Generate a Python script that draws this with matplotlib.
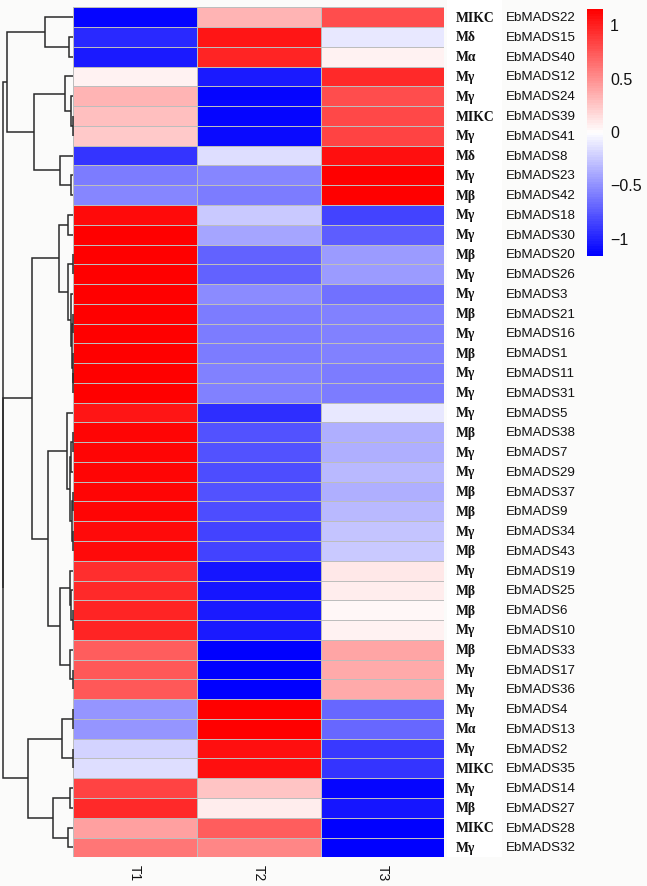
import matplotlib
matplotlib.use("Agg")
import matplotlib.pyplot as plt
import numpy as np
from matplotlib.colors import LinearSegmentedColormap, BoundaryNorm
from matplotlib.transforms import blended_transform_factory

# ---------------- data ----------------
genes = ["EbMADS22", "EbMADS15", "EbMADS40", "EbMADS12", "EbMADS24", "EbMADS39",
         "EbMADS41", "EbMADS8", "EbMADS23", "EbMADS42", "EbMADS18", "EbMADS30",
         "EbMADS20", "EbMADS26", "EbMADS3", "EbMADS21", "EbMADS16", "EbMADS1",
         "EbMADS11", "EbMADS31", "EbMADS5", "EbMADS38", "EbMADS7", "EbMADS29",
         "EbMADS37", "EbMADS9", "EbMADS34", "EbMADS43", "EbMADS19", "EbMADS25",
         "EbMADS6", "EbMADS10", "EbMADS33", "EbMADS17", "EbMADS36", "EbMADS4",
         "EbMADS13", "EbMADS2", "EbMADS35", "EbMADS14", "EbMADS27", "EbMADS28",
         "EbMADS32"]
subfamily = ["MIKC", "Mδ", "Mα", "Mγ", "Mγ", "MIKC", "Mγ", "Mδ", "Mγ", "Mβ",
             "Mγ", "Mγ", "Mβ", "Mγ", "Mγ", "Mβ", "Mγ", "Mβ", "Mγ", "Mγ",
             "Mγ", "Mβ", "Mγ", "Mγ", "Mβ", "Mβ", "Mγ", "Mβ", "Mγ", "Mβ",
             "Mβ", "Mγ", "Mβ", "Mγ", "Mγ", "Mγ", "Mα", "Mγ", "MIKC", "Mγ",
             "Mβ", "MIKC", "Mγ"]
samples = ["T1", "T2", "T3"]

T1 = [-1.12, -0.95, -1.02, 0.06, 0.33, 0.28, 0.25, -0.91, -0.60, -0.55,
      1.10, 1.14, 1.145, 1.145, 1.15, 1.155, 1.155, 1.155, 1.155, 1.155,
      1.04, 1.13, 1.13, 1.12, 1.13, 1.12, 1.10, 1.10, 0.94, 0.96,
      0.99, 0.98, 0.73, 0.75, 0.76, -0.47, -0.47, -0.19, -0.16, 0.85,
      0.96, 0.43, 0.61]
T2 = [0.33, 1.05, 0.97, -1.02, -1.12, -1.11, -1.10, -0.16, -0.55, -0.60,
      -0.25, -0.41, -0.70, -0.70, -0.52, -0.60, -0.60, -0.59, -0.56, -0.56,
      -0.93, -0.77, -0.77, -0.80, -0.78, -0.80, -0.84, -0.85, -1.05, -1.04,
      -1.02, -1.03, -1.14, -1.135, -1.135, 1.148, 1.148, 1.08, 1.07, 0.26,
      0.08, 0.72, 0.54]
T3 = [0.79, -0.10, 0.05, 0.96, 0.79, 0.83, 0.85, 1.07, 1.15, 1.15,
      -0.85, -0.73, -0.445, -0.445, -0.63, -0.555, -0.555, -0.565, -0.595, -0.595,
      -0.11, -0.36, -0.36, -0.32, -0.35, -0.32, -0.26, -0.25, 0.11, 0.08,
      0.03, 0.05, 0.41, 0.385, 0.375, -0.68, -0.68, -0.89, -0.91, -1.11,
      -1.04, -1.15, -1.15]

# row dendrogram merges: (left id, right id, height); leaves 0..42, merged nodes 43+
merges = [
    (1, 2, 4.3),        # 43
    (0, 43, 28.3),      # 44
    (5, 6, 0.6),        # 45
    (4, 45, 2.3),       # 46
    (3, 46, 8.3),       # 47
    (8, 9, 2.3),        # 48
    (7, 48, 13.3),      # 49
    (47, 49, 39.0),     # 50
    (44, 50, 66.6),     # 51
    (10, 11, 5.0),      # 52
    (12, 13, 0.6),      # 53
    (15, 16, 0.3),      # 54
    (18, 19, 0.2),      # 55
    (17, 55, 0.6),      # 56
    (54, 56, 1.0),      # 57
    (14, 57, 2.3),      # 58
    (53, 58, 5.6),      # 59
    (52, 59, 14.6),     # 60
    (21, 22, 0.6),      # 61
    (61, 23, 2.3),      # 62
    (24, 25, 0.6),      # 63
    (26, 27, 0.6),      # 64
    (63, 64, 1.8),      # 65
    (62, 65, 3.3),      # 66
    (20, 66, 6.6),      # 67
    (30, 31, 0.6),      # 68
    (29, 68, 2.3),      # 69
    (28, 69, 3.3),      # 70
    (33, 34, 0.6),      # 71
    (32, 71, 3.3),      # 72
    (70, 72, 13.3),     # 73
    (67, 73, 25.0),     # 74
    (60, 74, 41.0),     # 75
    (35, 36, 0.6),      # 76
    (37, 38, 0.6),      # 77
    (76, 77, 11.6),     # 78
    (39, 40, 3.3),      # 79
    (41, 42, 5.6),      # 80
    (79, 80, 20.0),     # 81
    (78, 81, 45.6),     # 82
    (75, 82, 70.0),     # 83
    (51, 83, 70.6),     # 84 root
]

# ---------------- figure ----------------
W, H = 647, 887
DPI = 100
fig = plt.figure(figsize=(W / DPI, H / DPI), dpi=DPI, facecolor="#fbfbfa")

def px_axes(x0, y0, x1, y1, **kw):
    return fig.add_axes([x0 / W, 1 - y1 / H, (x1 - x0) / W, (y1 - y0) / H], **kw)

hm_l, hm_r, hm_t, hm_b = 73.3, 444.3, 8.3, 858.3
n_rows = len(genes)

data = np.column_stack([T1, T2, T3])
vlim = 2 / np.sqrt(3)
cmap = LinearSegmentedColormap.from_list("bwr_", ["#0000FF", "#FFFFFF", "#FF0000"], N=100)
bounds = np.linspace(-vlim, vlim, 101)
norm = BoundaryNorm(bounds, cmap.N)

# white band behind the subfamily labels
bg = px_axes(447, 0, 502, hm_b, zorder=-5)
bg.set_facecolor("white")
bg.set_xticks([])
bg.set_yticks([])
for s in bg.spines.values():
    s.set_visible(False)

ax = px_axes(hm_l, hm_t, hm_r, hm_b)
ax.pcolormesh(np.arange(4), np.arange(n_rows + 1), data, cmap=cmap, norm=norm,
              edgecolors="#bdbdbd", linewidth=0.6)
ax.set_xlim(0, 3)
ax.set_ylim(n_rows, 0)
ax.set_xticks([])
ax.set_yticks([])
for s in ax.spines.values():
    s.set_visible(False)

# column labels
for j, lab in enumerate(samples):
    ax.text(j + 0.5, n_rows + 0.35, lab, rotation=270, ha="center", va="top",
            fontsize=10, family="Liberation Sans", color="#111111")

# row labels
tr = blended_transform_factory(fig.transFigure, ax.transData)
for i in range(n_rows):
    ax.text(456 / W, i + 0.5, subfamily[i], transform=tr, ha="left", va="center",
            fontsize=9.8, family="Liberation Serif", fontweight="bold", color="#111111",
            zorder=10)
    ax.text(506 / W, i + 0.5, genes[i], transform=tr, ha="left", va="center",
            fontsize=9.6, family="Liberation Sans", color="#111111", zorder=10)

# dendrogram
dax = px_axes(0, hm_t, hm_l, hm_b)
dax.set_xlim(hm_l, 0)
dax.set_ylim(n_rows, 0)
dax.axis("off")
pos = {i: i + 0.5 for i in range(n_rows)}
hgt = {i: 0.0 for i in range(n_rows)}
for k, (a, b, h) in enumerate(merges):
    nid = n_rows + k
    ya, yb = pos[a], pos[b]
    dax.plot([hgt[a], h, h, hgt[b]], [ya, ya, yb, yb], color="#2a2a2a", lw=1.1,
             solid_capstyle="butt", solid_joinstyle="miter", clip_on=False)
    pos[nid] = (ya + yb) / 2
    hgt[nid] = h

# colorbar
cax = px_axes(586.7, 10, 603.3, 257)
grad = np.linspace(-vlim, vlim, 100).reshape(-1, 1)
cax.pcolormesh([0, 1], bounds, grad, cmap=cmap, norm=norm)
cax.set_xlim(0, 1)
cax.set_ylim(-vlim, vlim)
cax.set_xticks([])
cax.set_yticks([])
for s in cax.spines.values():
    s.set_visible(False)
for v, lab in [(1, "1"), (0.5, "0.5"), (0, "0"), (-0.5, "\u22120.5"), (-1, "\u22121")]:
    cax.text(1.4, v, lab, transform=blended_transform_factory(cax.transAxes, cax.transData),
             ha="left", va="center", fontsize=11.5, family="Liberation Sans", color="#111111")

fig.savefig("out.png", dpi=DPI, facecolor=fig.get_facecolor())
